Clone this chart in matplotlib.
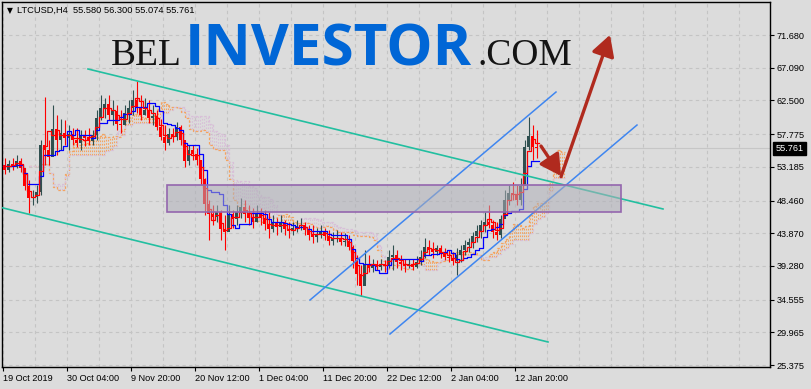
import matplotlib
matplotlib.use("Agg")
import matplotlib.pyplot as plt
from matplotlib.patches import Rectangle, FancyArrowPatch, ArrowStyle
import numpy as np
import pandas as pd

# LTCUSD H4, values, one candle per 4 bars
first_open = 53.4
highs = [
    54.4, 54.1, 54.4, 54.8, 54.4, 53.0, 51.3, 49.9, 50.6, 57.0,
    63.0, 56.9, 61.9, 60.4, 59.9, 59.7, 59.0, 58.6, 58.6, 58.3,
    58.3, 58.6, 58.3, 61.2, 63.3, 62.8, 63.3, 62.6, 61.9, 61.2,
    61.9, 62.6, 64.0, 65.2, 63.3, 62.8, 62.6, 61.9, 61.2, 59.9,
    59.0, 58.6, 58.6, 59.5, 59.0, 56.9, 56.3, 56.3, 55.8, 54.1,
    51.6, 48.5, 47.8, 47.8, 47.1, 46.4, 47.8, 47.1, 47.8, 48.8,
    48.5, 47.8, 47.4, 47.8, 47.4, 47.1, 46.8, 46.4, 46.0, 46.4,
    45.7, 45.4, 45.4, 45.7, 46.0, 45.4, 45.0, 45.0, 44.6, 45.0,
    44.6, 44.3, 44.0, 44.3, 44.0, 43.9, 43.6, 42.2, 40.8, 39.4,
    41.5, 40.8, 40.3, 40.1, 40.3, 40.1, 41.5, 42.2, 41.5, 40.8,
    40.3, 40.3, 40.3, 40.7, 41.5, 43.2, 42.9, 42.6, 42.2, 42.2,
    41.8, 41.5, 41.2, 41.8, 42.2, 42.9, 43.2, 44.0, 45.0, 45.7,
    46.8, 47.8, 45.7, 45.4, 46.4, 49.9, 50.6, 51.0, 50.6, 51.6,
    56.9, 60.2, 59.0, 58.3]
lows = [
    52.2, 52.4, 52.7, 53.0, 52.4, 49.9, 46.7, 47.8, 48.1, 49.2,
    53.4, 53.4, 55.5, 54.8, 55.5, 56.3, 55.5, 56.3, 55.9, 55.5,
    56.1, 56.3, 56.3, 57.0, 59.7, 60.0, 59.7, 59.0, 58.3, 58.0,
    59.0, 59.4, 60.5, 60.8, 59.7, 60.5, 59.4, 59.0, 58.3, 56.9,
    55.5, 56.3, 56.6, 56.9, 56.3, 53.1, 53.4, 54.1, 53.4, 50.6,
    46.4, 42.9, 45.0, 45.4, 42.9, 41.5, 45.0, 44.6, 45.0, 46.0,
    45.4, 45.0, 44.6, 45.4, 45.0, 44.3, 43.2, 44.0, 43.6, 44.0,
    43.6, 43.2, 43.6, 44.0, 44.3, 43.6, 42.9, 42.5, 42.6, 43.2,
    42.9, 42.2, 42.2, 42.6, 42.2, 42.1, 41.5, 39.0, 36.6, 35.1,
    37.3, 38.4, 38.4, 38.7, 38.7, 38.4, 39.0, 38.7, 39.0, 38.7,
    38.4, 39.0, 38.7, 39.0, 39.4, 40.4, 40.8, 40.4, 40.8, 40.4,
    40.1, 39.8, 39.4, 38.0, 39.8, 40.8, 41.2, 41.8, 42.6, 43.2,
    44.0, 44.6, 43.2, 42.9, 43.2, 46.4, 47.8, 48.5, 47.8, 47.8,
    50.6, 55.5, 54.1, 54.4]
closes = [
    52.7, 53.6, 53.2, 54.0, 53.0, 50.5, 48.8, 49.0, 49.6, 56.2,
    55.5, 54.5, 58.5, 57.0, 58.0, 57.2, 57.8, 57.0, 56.5, 57.5,
    57.2, 56.8, 57.6, 60.0, 61.5, 62.0, 60.5, 61.0, 59.2, 59.0,
    60.8, 61.5, 62.5, 61.6, 60.5, 61.2, 60.0, 60.3, 58.8, 57.4,
    56.5, 57.8, 57.3, 58.8, 57.0, 54.0, 55.5, 55.0, 54.2, 51.5,
    48.0, 46.5, 46.2, 46.8, 44.5, 44.0, 46.5, 45.8, 46.8, 47.5,
    46.5, 46.0, 45.5, 46.6, 46.0, 45.2, 44.5, 45.3, 44.8, 45.5,
    44.4, 44.2, 44.6, 44.9, 45.0, 44.3, 43.6, 43.4, 43.8, 44.0,
    43.5, 42.8, 43.0, 43.2, 42.6, 42.8, 42.0, 40.0, 38.2, 36.5,
    39.5, 39.0, 39.6, 39.2, 39.6, 39.3, 40.5, 40.8, 39.8, 39.5,
    39.3, 39.6, 39.2, 39.8, 40.6, 42.0, 41.5, 41.2, 41.8, 41.0,
    40.6, 40.4, 40.0, 40.8, 41.5, 42.2, 42.6, 43.5, 44.2, 45.0,
    45.5, 45.0, 44.0, 43.6, 45.8, 48.6, 49.5, 49.2, 48.5, 50.5,
    56.0, 57.5, 56.0, 55.761]

price_ticks = [71.680, 67.090, 62.500, 57.775, 53.185, 48.460, 43.870, 39.280, 34.555, 29.965, 25.375]
time_labels = ["19 Oct 2019", "30 Oct 04:00", "9 Nov 20:00", "20 Nov 12:00", "1 Dec 04:00",
               "11 Dec 20:00", "22 Dec 12:00", "2 Jan 04:00", "12 Jan 20:00"]
header = "LTCUSD,H4  55.580 56.300 55.074 55.761"
last_price = 55.761

# analyst drawings (bar index, price)
channel_down = [((85, 66.91), (660, 47.27)), ((-1, 47.45), (545, 28.61))]
channel_up = [((307, 34.50), (553, 63.68)), ((387, 29.73), (634, 59.05))]
zone = (164, 618, 46.85, 50.63)
arrow_down = ((538, 56.1), (558, 51.9))
arrow_up = ((558, 51.8), (607, 71.7))

BG = "#DCDCDC"
W, H = 811, 389
BARS = 4
SHIFT = 26

fig = plt.figure(figsize=(W / 100, H / 100), dpi=100, facecolor=BG)
ax = fig.add_axes([2 / W, (H - 367) / H, 768 / W, 365 / H], facecolor=BG)

hi = np.array(highs)
lo = np.array(lows)
cl = np.array(closes)
op = np.r_[first_open, cl[:-1]]
x0 = np.arange(len(cl)) * BARS
xc = x0 + 1.5

# ichimoku computed from the candles above (periods in 4-bar units)
h = pd.Series(hi)
l = pd.Series(lo)
tenkan = ((h.rolling(2, min_periods=1).max() + l.rolling(2, min_periods=1).min()) / 2).values
kijun = ((h.rolling(7, min_periods=1).max() + l.rolling(7, min_periods=1).min()) / 2).values
span_a = (tenkan + kijun) / 2
span_b = ((h.rolling(13, min_periods=1).max() + l.rolling(13, min_periods=1).min()) / 2).values

xs = np.r_[x0, x0[-1] + BARS]
xs_cloud = xs + SHIFT
sa = np.r_[span_a, span_a[-1]]
sb = np.r_[span_b, span_b[-1]]

# cloud: dotted vertical hatching every 2 bars
xb = np.arange(0, len(cl) * BARS, 2)
gi = xb // BARS
top = np.maximum(span_a[gi], span_b[gi])
bot = np.minimum(span_a[gi], span_b[gi])
hcol = np.where(span_a[gi] >= span_b[gi], "#F4A460", "#D8BFD8")
ax.vlines(xb + SHIFT + 1, bot, top, colors=hcol, lw=0.8, linestyles=(0, (1.5, 1.5)), zorder=1)
ax.plot(xs_cloud, sa, drawstyle="steps-post", color="#F4A460", lw=0.9, ls=(0, (2, 1.5)), zorder=1.5)
ax.plot(xs_cloud, sb, drawstyle="steps-post", color="#D8BFD8", lw=0.9, ls=(0, (2, 1.5)), zorder=1.5)

# candles
up = cl >= op
colors = np.where(up, "#2F4F4F", "#FF0000")
ax.vlines(xc, lo, hi, colors=colors, lw=0.8, zorder=3)
ax.bar(xc, np.maximum(np.abs(cl - op), 0.08), bottom=np.minimum(cl, op),
       width=2.4, color=colors, linewidth=0, zorder=3)

ax.plot(xs, np.r_[kijun, kijun[-1]], drawstyle="steps-post", color="#0000FF", lw=0.9, zorder=4)
ax.plot(xs, np.r_[tenkan, tenkan[-1]], drawstyle="steps-post", color="#FF0000", lw=0.9, zorder=4)

ax.axhline(last_price, color="#C6C6C6", lw=0.8, zorder=0.5)

for (a, b) in channel_down:
    ax.plot([a[0], b[0]], [a[1], b[1]], color="#22BFA0", lw=1.2, zorder=5)
for (a, b) in channel_up:
    ax.plot([a[0], b[0]], [a[1], b[1]], color="#3F86F0", lw=1.1, zorder=5)

ax.add_patch(Rectangle((zone[0], zone[2]), zone[1] - zone[0], zone[3] - zone[2],
                       facecolor="#AFAFB8", alpha=0.55, edgecolor="none", zorder=6))
ax.add_patch(Rectangle((zone[0], zone[2]), zone[1] - zone[0], zone[3] - zone[2],
                       facecolor="none", edgecolor="#9466AE", lw=1.2, zorder=6))

style = ArrowStyle("-|>", head_length=0.9, head_width=0.5)
for (a, b) in (arrow_down, arrow_up):
    ax.add_patch(FancyArrowPatch(a, b, arrowstyle=style, mutation_scale=14, color="#B02A1E",
                                 lw=2.4, shrinkA=0, shrinkB=0, zorder=7))

ax.set_xlim(-1, 767)
ax.set_ylim(25.10, 76.31)

# axes, ticks, grid
ax.yaxis.tick_right()
ax.set_yticks(price_ticks)
ax.set_yticklabels(["%.3f" % v for v in price_ticks])
ax.set_xticks(np.arange(len(time_labels)) * 64)
ax.set_xticklabels(time_labels)
ax.set_xticks(np.arange(0, 767, 32), minor=True)
for lbl in ax.get_xticklabels():
    lbl.set_ha("left")
ax.tick_params(axis="both", which="major", length=3, width=0.8, color="black", direction="out",
               labelsize=6.6, labelfontfamily="Liberation Sans", pad=2)
ax.tick_params(axis="x", which="minor", length=0)
ax.grid(True, which="both", axis="x", color="#C4C4C4", lw=0.8, ls=(0, (3, 3)))
ax.grid(True, which="major", axis="y", color="#C4C4C4", lw=0.8, ls=(0, (3, 3)))
ax.set_axisbelow(True)
for s in ax.spines.values():
    s.set_color("black")
    s.set_linewidth(1)

ax.annotate("%.3f" % last_price, xy=(1.0, last_price), xycoords=("axes fraction", "data"),
            xytext=(4, 0), textcoords="offset points", va="center", ha="left",
            fontsize=6.6, family="Liberation Sans", color="white",
            bbox=dict(boxstyle="square,pad=0.25", fc="black", ec="black"), annotation_clip=False)

# header
fig.text(7 / W, 1 - 10.5 / H, "\u25bc", family="DejaVu Sans", fontsize=5.5, va="center", ha="left")
fig.text(17 / W, 1 - 10.5 / H, header, family="Liberation Sans", fontsize=6.7, va="center", ha="left")

# watermark
fig.text(182 / W, 1 - 65 / H, "BEL", family="Liberation Serif", fontsize=27, color="#141414",
         ha="right", va="baseline", zorder=10)
fig.text(185 / W, 1 - 65 / H, "INVESTOR", family="Open Sans", weight="bold", fontsize=42,
         color="#0066D6", ha="left", va="baseline", zorder=10)
fig.text(477 / W, 1 - 65 / H, ".COM", family="Liberation Serif", fontsize=27, color="#141414",
         ha="left", va="baseline", zorder=10)

fig.savefig("out.png", dpi=100, facecolor=BG)
